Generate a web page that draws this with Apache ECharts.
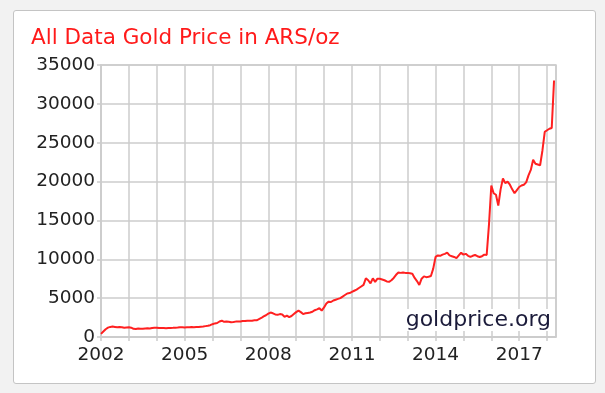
<!DOCTYPE html>
<html>
<head>
<meta charset="utf-8">
<script src="https://cdn.jsdelivr.net/npm/echarts@6/dist/echarts.min.js"></script>
<style>
  html, body { margin:0; padding:0; background:#f2f2f2; }
  #panel { position:absolute; left:13px; top:10px; width:581px; height:372px; background:#fff; border:1px solid #c4c4c4; border-radius:3px; }
  #chart { position:absolute; left:0; top:0; width:605px; height:393px; }
</style>
</head>
<body>
<div id="panel"></div>
<div id="chart"></div>
<script>
// Monthly gold price in ARS/oz, Jan 2002 .. Apr 2018
const startYear = 2002;
const prices2002 = [400, 700, 1000, 1200, 1300, 1350, 1300, 1250, 1280, 1250, 1200, 1230];
const prices2003 = [1250, 1200, 1050, 1030, 1080, 1050, 1060, 1100, 1120, 1100, 1150, 1180];
const prices2004 = [1200, 1150, 1170, 1150, 1130, 1160, 1170, 1180, 1200, 1220, 1250, 1240];
const prices2005 = [1230, 1250, 1270, 1280, 1260, 1300, 1280, 1320, 1350, 1400, 1450, 1520];
const prices2006 = [1650, 1750, 1800, 2000, 2100, 1950, 1980, 1950, 1900, 1920, 1980, 2000];
const prices2007 = [2000, 2050, 2050, 2100, 2080, 2100, 2150, 2150, 2300, 2450, 2650, 2800];
const prices2008 = [3000, 3150, 3050, 2900, 2850, 2950, 2900, 2600, 2750, 2550, 2700, 2950];
const prices2009 = [3200, 3400, 3200, 2950, 3050, 3100, 3150, 3250, 3450, 3550, 3700, 3400];
const prices2010 = [3800, 4300, 4550, 4500, 4700, 4800, 4900, 5000, 5200, 5400, 5600, 5650];
const prices2011 = [5800, 5950, 6100, 6300, 6500, 6700, 7550, 7300, 6900, 7550, 7100, 7500];
const prices2012 = [7500, 7400, 7300, 7150, 7100, 7300, 7600, 8000, 8300, 8250, 8300, 8250];
const prices2013 = [8250, 8200, 8150, 7600, 7200, 6700, 7500, 7800, 7700, 7750, 7850, 8800];
const prices2014 = [10300, 10500, 10450, 10600, 10700, 10850, 10500, 10400, 10300, 10150, 10500, 10850];
const prices2015 = [10600, 10700, 10450, 10300, 10450, 10550, 10400, 10300, 10400, 10600, 10550, 14500];
const prices2016 = [19500, 18500, 18300, 16900, 19000, 20400, 19800, 20000, 19600, 19000, 18500, 18900];
const prices2017 = [19300, 19500, 19600, 19900, 20800, 21500, 22800, 22300, 22200, 22100, 24000, 26400];
const prices2018 = [26600, 26800, 26900, 33000];

const yearlyPrices = [prices2002, prices2003, prices2004, prices2005, prices2006, prices2007,
  prices2008, prices2009, prices2010, prices2011, prices2012, prices2013, prices2014,
  prices2015, prices2016, prices2017, prices2018];

const yTicks = [0, 5000, 10000, 15000, 20000, 25000, 30000, 35000];
const xLabelYears = [2002, 2005, 2008, 2011, 2014, 2017];

const seriesData = [];
yearlyPrices.forEach((arr, yi) => {
  arr.forEach((v, mi) => seriesData.push([startYear + yi + mi / 12, v]));
});

const chart = echarts.init(document.getElementById('chart'), null, {renderer: 'canvas'});
const font = 'DejaVu Sans, Verdana, sans-serif';
chart.setOption({
  animation: false,
  backgroundColor: 'transparent',
  title: {
    text: 'All Data Gold Price in ARS/oz',
    left: 26, top: 22,
    textStyle: { color: '#ff1a1a', fontFamily: font, fontSize: 21.5, fontWeight: 'normal' }
  },
  grid: { left: 101, top: 65, width: 455, height: 272, show: true, borderColor: '#cccccc', borderWidth: 1.5, backgroundColor: 'transparent' },
  xAxis: {
    type: 'value', min: 2002, max: 2018.32, interval: 1,
    axisLine: { show: true, lineStyle: { color: '#cccccc', width: 1.5 } },
    axisTick: { show: true, length: 4, lineStyle: { color: '#cccccc', width: 1.5 } },
    splitLine: { show: true, lineStyle: { color: '#cccccc', width: 1.5 } },
    axisLabel: {
      showMaxLabel: false, margin: 9,
      color: '#222', fontFamily: font, fontSize: 18.5,
      formatter: v => (Number.isInteger(v) && xLabelYears.includes(v)) ? String(v) : ''
    }
  },
  yAxis: {
    type: 'value', min: yTicks[0], max: yTicks[yTicks.length - 1], interval: 5000,
    axisLine: { show: true, lineStyle: { color: '#cccccc', width: 1.5 } },
    axisTick: { show: true, length: 4, lineStyle: { color: '#cccccc', width: 1.5 } },
    splitLine: { show: true, lineStyle: { color: '#cccccc', width: 1.5 } },
    axisLabel: { margin: 6, color: '#222', fontFamily: font, fontSize: 18.5, formatter: v => String(v) }
  },
  series: [{
    type: 'line', data: seriesData, showSymbol: false, symbol: 'none',
    lineStyle: { color: '#ff2020', width: 2 }
  }],
  graphic: [{
    type: 'text', right: 52, top: 309, z: 100,
    style: {
      text: 'goldprice.org', fill: '#1b1b3a', font: '22px ' + font,
      backgroundColor: '#ffffff', padding: [0, 2, 0, 3]
    }
  }]
});
</script>
</body>
</html>
